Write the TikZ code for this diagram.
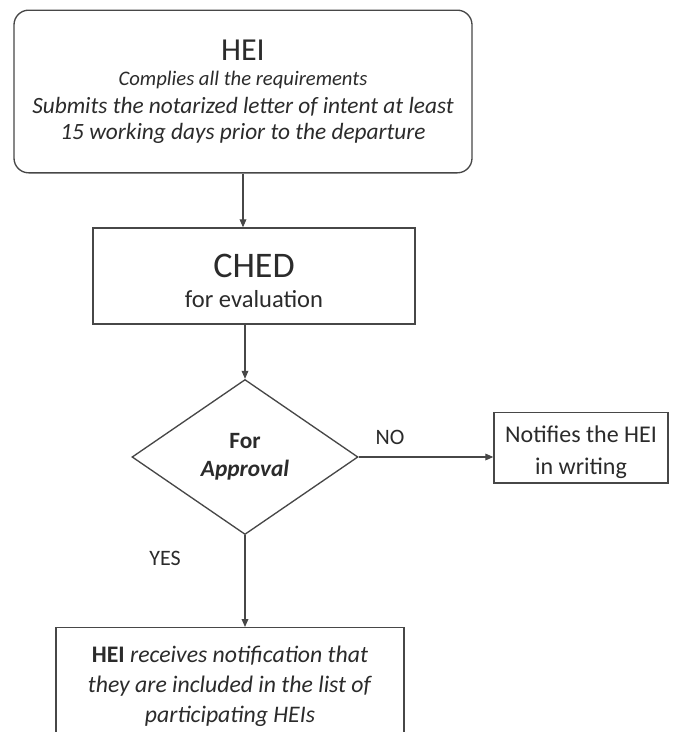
\documentclass[tikz,border=0pt]{standalone}
\usepackage{fontspec}
\setmainfont{Carlito}
\usetikzlibrary{shapes.geometric,arrows.meta,calc}
\definecolor{ln}{HTML}{474747}
\definecolor{tx}{HTML}{2B2B2B}
\begin{document}
\begin{tikzpicture}[x=0.75pt,y=-0.75pt,
  box/.style={draw=ln, line width=1pt, rectangle, inner sep=0pt, align=center, text=tx},
  arr/.style={draw=ln, line width=0.9pt, -{Triangle[length=6pt,width=5pt]}},
  lbl/.style={text=tx, inner sep=0pt, font=\fontsize{16.5}{18}\selectfont}]
\clip (0,0) rectangle (676,732);
\fill[white] (0,0) rectangle (676,732);

\node[box, rounded corners=11pt, minimum width=343.5pt, minimum height=122pt,
      font=\fontsize{17.5}{19.5}\selectfont] (hei) at (243,91.5)
  {{\fontsize{24}{24}\selectfont HEI}\\[-1pt]
   {\fontsize{15.5}{18}\selectfont\itshape Complies all the requirements}\\[1.5pt]
   {\itshape Submits the notarized letter of intent at least}\\
   {\itshape 15 working days prior to the departure}};

\node[box, minimum width=241.5pt, minimum height=72pt,
      font=\fontsize{18.4}{23}\selectfont] (ched) at (254,276)
  {{\fontsize{27}{28}\selectfont\rule{0pt}{25pt}CHED}\\
   for evaluation};

\node[box, shape=diamond, minimum width=169.5pt, minimum height=116.25pt,
      font=\fontsize{17.5}{21}\selectfont\bfseries] (dec) at (245,457)
  {For\\ \textit{Approval}};

\node[box, minimum width=130.5pt, minimum height=53pt,
      font=\fontsize{18}{24}\selectfont] (notify) at (581,447.5)
  {\rule{0pt}{20pt}Notifies the HEI\\ in writing};

\node[box, anchor=north, minimum width=261pt, inner ysep=13.5pt,
      font=\fontsize{17.8}{22.5}\selectfont] (res) at (230,627)
  {\textbf{HEI} \textit{receives notification that}\\
   \textit{they are included in the list of}\\
   \textit{participating HEIs}};

\node[lbl] (no) at (390,437) {NO};
\node[lbl] (yes) at (165,558) {YES};

\draw[arr] (hei.south) -- (hei.south |- ched.north);
\draw[arr] (ched.south -| dec.north) -- (dec.north);
\draw[arr] (dec.east) -- (dec.east -| notify.west);
\draw[arr] (dec.south) -- (dec.south |- res.north);
\end{tikzpicture}
\end{document}
